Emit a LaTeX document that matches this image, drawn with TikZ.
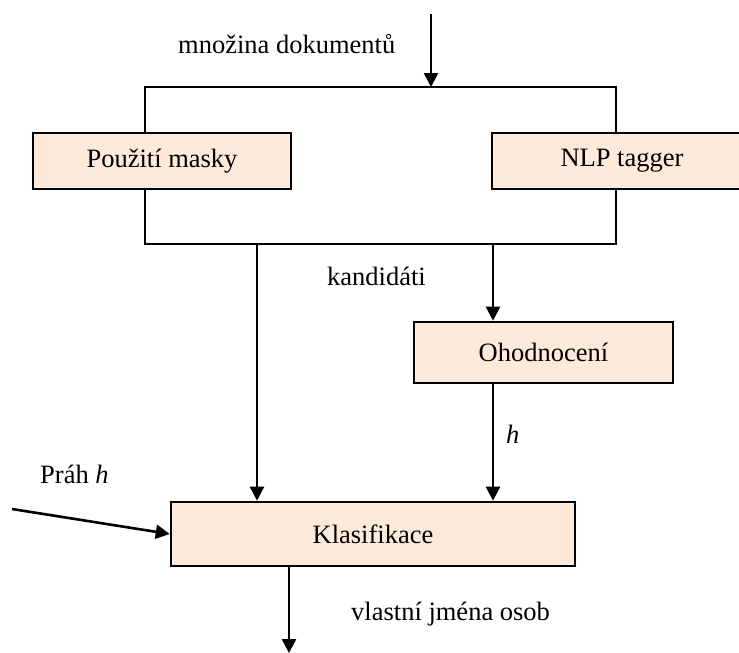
\documentclass[tikz,border=0pt]{standalone}
\usepackage{fontspec}
\setmainfont{Liberation Serif}
\usetikzlibrary{arrows.meta}
\definecolor{peach}{HTML}{FDEADA}
\begin{document}
\begin{tikzpicture}[x=1pt,y=-1pt,
  every node/.style={font=\fontsize{26.5}{30}\selectfont},
  procbox/.style={draw=black,line width=2.6pt,fill=peach,inner sep=0pt},
  conn/.style={line width=2.6pt},
  arr/.style={conn,-{Triangle[length=14pt,width=14pt]}},
  lbl/.style={inner sep=0pt,anchor=base west}]
\useasboundingbox (0,0) rectangle (739,653);
% boxes
\node[procbox,minimum width=258pt,minimum height=56pt] (mask) at (162,161) {Použití masky};
\node[procbox,minimum width=260pt,minimum height=56pt] (nlp) at (622,161) {NLP tagger};
\node[procbox,minimum width=259pt,minimum height=61pt] (ohod) at (543.5,352.5) {Ohodnocení};
\node[procbox,minimum width=404pt,minimum height=64pt] (klas) at (373,534) {Klasifikace};
% helper coordinates
\coordinate (src) at (431,14);
\coordinate (tl) at (145,87);
\coordinate (tr) at (616,87);
\coordinate (bl) at (145,244);
\coordinate (br) at (616,244);
\coordinate (ca) at (257,244);
\coordinate (cb) at (493,244);
\coordinate (pin) at (12,509);
\coordinate (out) at (289,653);
% connectors
\draw[arr] (src) -- (src |- tl);
\draw[conn,line join=miter] (mask.north -| tl) -- (tl) -- (tr) -- (nlp.north -| tr);
\draw[conn,line join=miter] (mask.south -| bl) -- (bl) -- (br) -- (nlp.south -| br);
\draw[arr] (ca) -- (ca |- klas.north);
\draw[arr] (cb) -- (cb |- ohod.north);
\draw[arr] (cb |- ohod.south) -- (cb |- klas.north);
\draw[arr] (pin) -- (klas.west);
\draw[arr] (out |- klas.south) -- (out);
% labels
\node[lbl] (l1) at (178,53) {množina dokumentů};
\node[lbl] (l2) at (327,285) {kandidáti};
\node[lbl] (l3) at (506,443) {\itshape h};
\node[lbl] (l4) at (40,483) {Práh \textit{h}};
\node[lbl] (l5) at (351,620) {vlastní jména osob};
\end{tikzpicture}
\end{document}
